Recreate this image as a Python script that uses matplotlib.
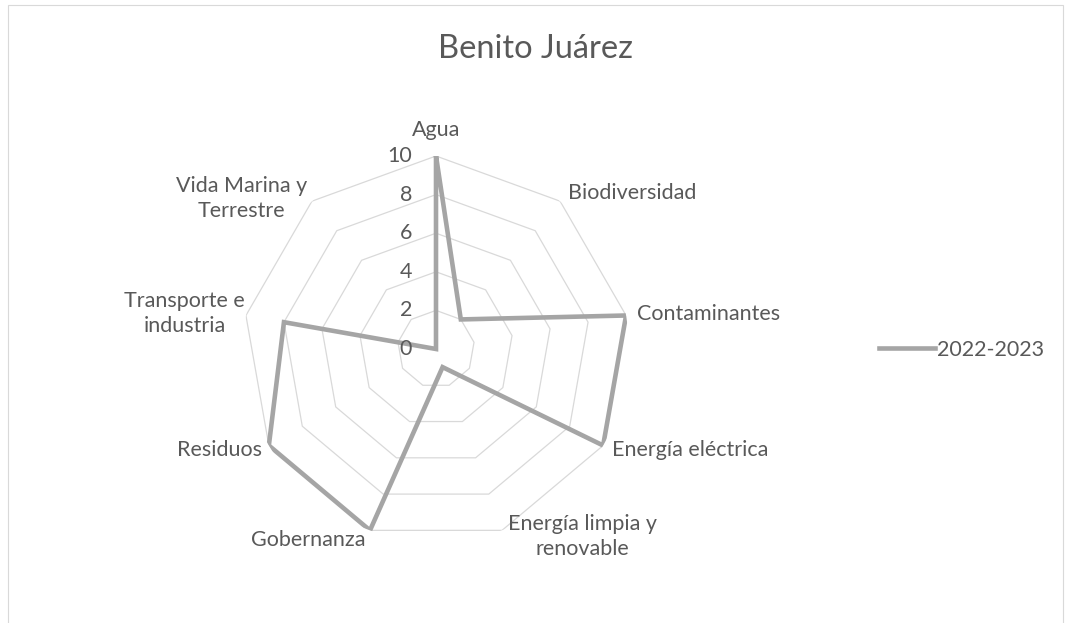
import numpy as np
import matplotlib
matplotlib.use("Agg")
import matplotlib.pyplot as plt
from matplotlib.patches import Rectangle

categories = ["Agua", "Biodiversidad", "Contaminantes", "Energía eléctrica",
              "Energía limpia y\nrenovable", "Gobernanza", "Residuos",
              "Transporte e\nindustria", "Vida Marina y\nTerrestre"]
values = [10, 2, 10, 10, 1, 10, 10, 8, 0]
series_name = "2022-2023"
title = "Benito Juárez"
r_ticks = [0, 2, 4, 6, 8, 10]

# label offsets in pixels (dx, dy) from the outer vertex and alignment
label_style = [
    (0, 26, "center"), (8, 8, "left"), (11, 1, "left"), (9, -5, "left"),
    (6, -6, "left"), (-4, -10, "right"), (-7, -5, "right"),
    (-1, 2, "right"), (-5, 3, "right"),
]

plt.rcParams['font.family'] = ['Lato', 'DejaVu Sans']
TXT = "#595959"
FS = 15.5
W, H = 1071, 623
fig = plt.figure(figsize=(W / 100, H / 100), dpi=100)
fig.patches.append(Rectangle((8 / W, -0.1), (1063 - 8) / W, 1.1 - 5 / H,
                             transform=fig.transFigure, fill=False,
                             edgecolor="#d9d9d9", linewidth=0.8))

cx, cy, R = 436, 349, 193
ax = fig.add_axes([(cx - R) / W, 1 - (cy + R) / H, 2 * R / W, 2 * R / H],
                  projection="polar")
ax.set_theta_offset(np.pi / 2)
ax.set_theta_direction(-1)
ax.set_ylim(0, 10)
ax.axis("off")

n = len(categories)
angles = np.linspace(0, 2 * np.pi, n, endpoint=False)
ang_c = np.append(angles, angles[0])

for r in r_ticks[1:]:
    ax.plot(ang_c, [r] * (n + 1), color="#d9d9d9", linewidth=0.9, zorder=1)

vals_c = values + values[:1]
ax.plot(ang_c, vals_c, color="#a5a5a5", linewidth=3.3, solid_joinstyle="miter",
        zorder=3, label=series_name)

for r in r_ticks:
    ax.annotate(str(r), xy=(0, r), xytext=(-24 * 0.72, 0), textcoords="offset points",
                ha="right", va="center", fontsize=FS, color=TXT)

for a, lab, (dx, dy, ha) in zip(angles, categories, label_style):
    ax.annotate(lab, xy=(a, 10), xytext=(dx * 0.72, dy * 0.72),
                textcoords="offset points", ha=ha, va="center",
                multialignment="center", fontsize=FS, color=TXT,
                linespacing=1.3, annotation_clip=False)

fig.text(535 / W, 1 - 58 / H, title, ha="center", va="baseline", fontsize=23.5, color=TXT)

leg = fig.legend(loc="center left", bbox_to_anchor=(870 / W, 1 - 350 / H),
                 frameon=False, fontsize=FS, handlelength=2.6, handletextpad=0.1,
                 borderaxespad=0)
for t in leg.get_texts():
    t.set_color(TXT)

fig.savefig("out.png", dpi=100)
